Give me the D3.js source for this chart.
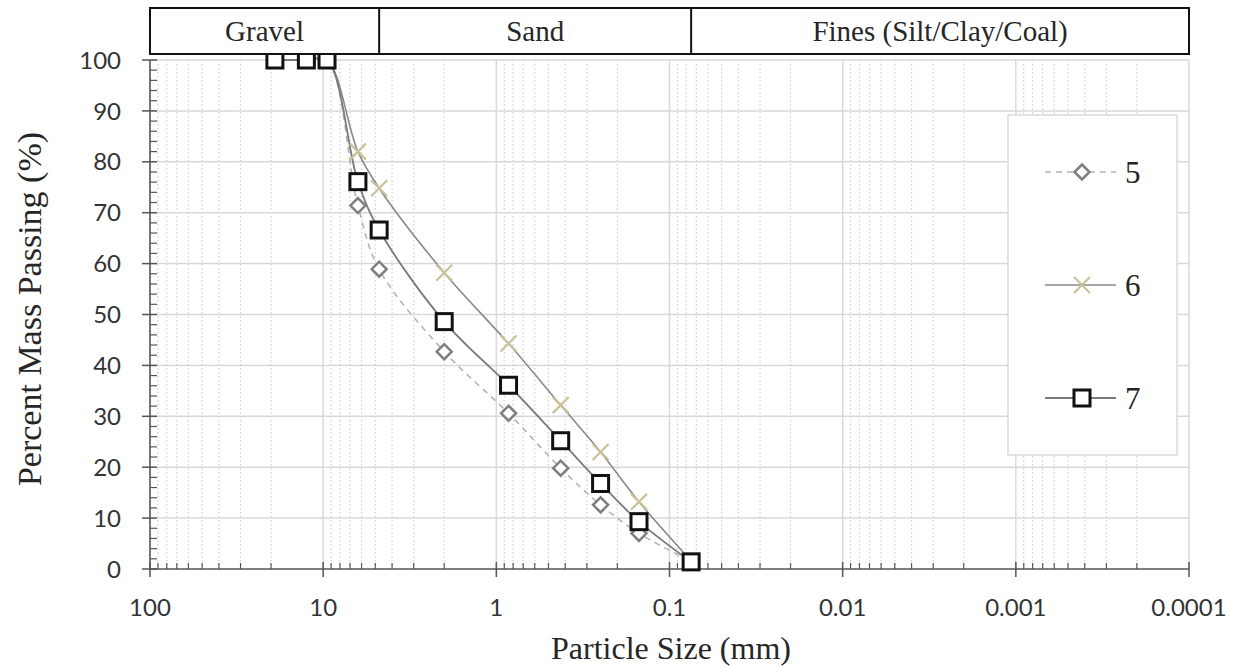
<!DOCTYPE html>
<html>
<head>
<meta charset="utf-8">
<script src="https://cdn.jsdelivr.net/npm/d3@7"></script>
<style>
  html, body { margin: 0; padding: 0; background: #ffffff; }
  svg { display: block; }
</style>
</head>
<body>
<svg id="chart" width="1239" height="667"></svg>
<script>
// Sieve sizes (mm) and percent passing for samples 5, 6 and 7
const sieveSizes = [19, 12.5, 9.5, 6.3, 4.75, 2, 0.85, 0.425, 0.25, 0.15, 0.075];
const sample5 = [100, 100, 100, 71.4, 58.9, 42.7, 30.6, 19.8, 12.6, 7.0, 1.5];
const sample6 = [100, 100, 100, 82.0, 74.8, 58.2, 44.3, 32.2, 23.0, 13.2, 1.6];
const sample7 = [100, 100, 100, 76.1, 66.6, 48.6, 36.1, 25.2, 16.8, 9.3, 1.4];
const seriesNames = ["5", "6", "7"];

// Soil classification bands along the size axis
const bandNames = ["Gravel", "Sand", "Fines (Silt/Clay/Coal)"];
const bandEdges = [100, 4.75, 0.075, 0.0001];

const xTickValues = [100, 10, 1, 0.1, 0.01, 0.001, 0.0001];
const xTickLabels = ["100", "10", "1", "0.1", "0.01", "0.001", "0.0001"];
const yTickValues = [0, 10, 20, 30, 40, 50, 60, 70, 80, 90, 100];

const svg = d3.select("#chart");
const plotLeft = 150, plotRight = 1189, plotTop = 60, plotBottom = 569;

const x = d3.scaleLog().domain([100, 0.0001]).range([plotLeft, plotRight]);
const y = d3.scaleLinear().domain([0, 100]).range([plotBottom, plotTop]);

const minorValues = [];
for (let e = 1; e >= -4; e--) {
  for (let m = 2; m <= 9; m++) minorValues.push(m * Math.pow(10, e));
}

const sansFont = "Lato, 'Open Sans', sans-serif";
const serifFont = "'Liberation Serif', 'Times New Roman', serif";

// Grid
const grid = svg.append("g");
grid.selectAll("line.minor").data(minorValues).join("line")
  .attr("x1", d => x(d)).attr("x2", d => x(d))
  .attr("y1", plotTop).attr("y2", plotBottom)
  .attr("stroke", "#cfcfcf").attr("stroke-width", 1.2)
  .attr("stroke-dasharray", "1.5,2.5");
grid.selectAll("line.major").data(xTickValues).join("line")
  .attr("x1", d => x(d)).attr("x2", d => x(d))
  .attr("y1", plotTop).attr("y2", plotBottom)
  .attr("stroke", "#d9d9d9").attr("stroke-width", 1.5);
grid.selectAll("line.h").data(yTickValues.filter(v => v > 0)).join("line")
  .attr("x1", plotLeft).attr("x2", plotRight)
  .attr("y1", d => y(d)).attr("y2", d => y(d))
  .attr("stroke", "#d9d9d9").attr("stroke-width", 1.5);

// Axes
const axisColor = "#555555";
const xAxis = svg.append("g").attr("transform", `translate(0,${plotBottom})`);
xAxis.append("line").attr("x1", plotLeft).attr("x2", plotRight)
  .attr("stroke", axisColor).attr("stroke-width", 1.5);
xAxis.selectAll("line.mj").data(xTickValues).join("line")
  .attr("x1", d => x(d)).attr("x2", d => x(d)).attr("y1", -7).attr("y2", 8)
  .attr("stroke", axisColor).attr("stroke-width", 1.5);
xAxis.selectAll("line.mn").data(minorValues).join("line")
  .attr("x1", d => x(d)).attr("x2", d => x(d)).attr("y1", -6).attr("y2", 0)
  .attr("stroke", axisColor).attr("stroke-width", 1.2);
xAxis.selectAll("text").data(xTickValues).join("text")
  .attr("x", d => x(d)).attr("y", 47)
  .attr("text-anchor", "middle")
  .attr("font-family", sansFont).attr("font-size", 24)
  .attr("fill", "#333333")
  .text((d, i) => xTickLabels[i]);

const yAxis = svg.append("g").attr("transform", `translate(${plotLeft},0)`);
yAxis.append("line").attr("y1", plotTop).attr("y2", plotBottom)
  .attr("stroke", axisColor).attr("stroke-width", 1.5);
yAxis.selectAll("line.mj").data(yTickValues).join("line")
  .attr("y1", d => y(d)).attr("y2", d => y(d)).attr("x1", -8).attr("x2", 7)
  .attr("stroke", axisColor).attr("stroke-width", 1.5);
yAxis.selectAll("line.mn").data(d3.range(0, 101, 2).filter(v => v % 10 !== 0)).join("line")
  .attr("y1", d => y(d)).attr("y2", d => y(d)).attr("x1", 0).attr("x2", 7)
  .attr("stroke", axisColor).attr("stroke-width", 1.2);
yAxis.selectAll("text").data(yTickValues).join("text")
  .attr("x", -29).attr("y", d => y(d)).attr("dy", "0.36em")
  .attr("text-anchor", "end")
  .attr("font-family", sansFont).attr("font-size", 24)
  .attr("fill", "#333333")
  .text(d => d);

// Axis titles
svg.append("text")
  .attr("x", 671).attr("y", 659).attr("text-anchor", "middle")
  .attr("font-family", serifFont).attr("font-size", 32)
  .attr("fill", "#262626")
  .text("Particle Size (mm)");
svg.append("text")
  .attr("transform", "translate(41,309) rotate(-90)")
  .attr("text-anchor", "middle")
  .attr("font-family", serifFont).attr("font-size", 34)
  .attr("fill", "#262626")
  .text("Percent Mass Passing (%)");

// Series lines
const rows = [sample5, sample6, sample7].map(vals => sieveSizes.map((s, i) => ({ s, v: vals[i] })));
const line = d3.line().x(d => x(d.s)).y(d => y(d.v)).curve(d3.curveCatmullRom.alpha(0.5));

const styles = [
  { stroke: "#b3b3b3", width: 1.6, dash: "6,5" },
  { stroke: "#8a8a8a", width: 1.6, dash: null },
  { stroke: "#7a7a7a", width: 1.8, dash: null }
];

rows.forEach((r, i) => {
  svg.append("path").datum(r)
    .attr("d", line)
    .attr("fill", "none")
    .attr("stroke", styles[i].stroke)
    .attr("stroke-width", styles[i].width)
    .attr("stroke-dasharray", styles[i].dash);
});

// Marker drawing helpers
function diamond(g, cx, cy) {
  const r = 7.5;
  g.append("path")
    .attr("d", `M${cx},${cy - r}L${cx + r},${cy}L${cx},${cy + r}L${cx - r},${cy}Z`)
    .attr("fill", "#ffffff").attr("stroke", "#7f7f7f").attr("stroke-width", 2.5);
}
function cross(g, cx, cy) {
  const r = 8;
  g.append("path")
    .attr("d", `M${cx - r},${cy - r}L${cx + r},${cy + r}M${cx - r},${cy + r}L${cx + r},${cy - r}`)
    .attr("fill", "none").attr("stroke", "#c9c299").attr("stroke-width", 2.2);
}
function square(g, cx, cy) {
  const r = 8;
  g.append("rect")
    .attr("x", cx - r).attr("y", cy - r).attr("width", 2 * r).attr("height", 2 * r)
    .attr("fill", "#ffffff").attr("stroke", "#111111").attr("stroke-width", 3);
}
const markerFns = [diamond, cross, square];

const markers = svg.append("g");
rows.forEach((r, i) => {
  r.forEach(d => markerFns[i](markers, x(d.s), y(d.v)));
});

// Classification band header
const header = svg.append("g");
const hTop = 8, hBot = 54;
header.append("rect")
  .attr("x", plotLeft).attr("y", hTop).attr("width", plotRight - plotLeft).attr("height", hBot - hTop)
  .attr("fill", "#ffffff").attr("stroke", "#111111").attr("stroke-width", 2);
bandEdges.slice(1, -1).forEach(e => {
  header.append("line")
    .attr("x1", x(e)).attr("x2", x(e)).attr("y1", hTop).attr("y2", hBot)
    .attr("stroke", "#111111").attr("stroke-width", 2);
});
bandNames.forEach((name, i) => {
  header.append("text")
    .attr("x", (x(bandEdges[i]) + x(bandEdges[i + 1])) / 2)
    .attr("y", 41)
    .attr("text-anchor", "middle")
    .attr("font-family", serifFont).attr("font-size", 29)
    .attr("fill", "#262626")
    .text(name);
});

// Legend
const legend = svg.append("g");
legend.append("rect")
  .attr("x", 1008).attr("y", 115).attr("width", 169).attr("height", 340)
  .attr("fill", "#ffffff").attr("stroke", "#dcdcd4").attr("stroke-width", 1.5);
const legendY = [172, 285, 398];
seriesNames.forEach((name, i) => {
  const cy = legendY[i];
  legend.append("line")
    .attr("x1", 1045).attr("x2", 1116).attr("y1", cy).attr("y2", cy)
    .attr("stroke", styles[i].stroke).attr("stroke-width", styles[i].width)
    .attr("stroke-dasharray", styles[i].dash);
  markerFns[i](legend, 1082, cy);
  legend.append("text")
    .attr("x", 1125).attr("y", cy).attr("dy", "0.34em")
    .attr("font-family", serifFont).attr("font-size", 31)
    .attr("fill", "#262626")
    .text(name);
});
</script>
</body>
</html>
